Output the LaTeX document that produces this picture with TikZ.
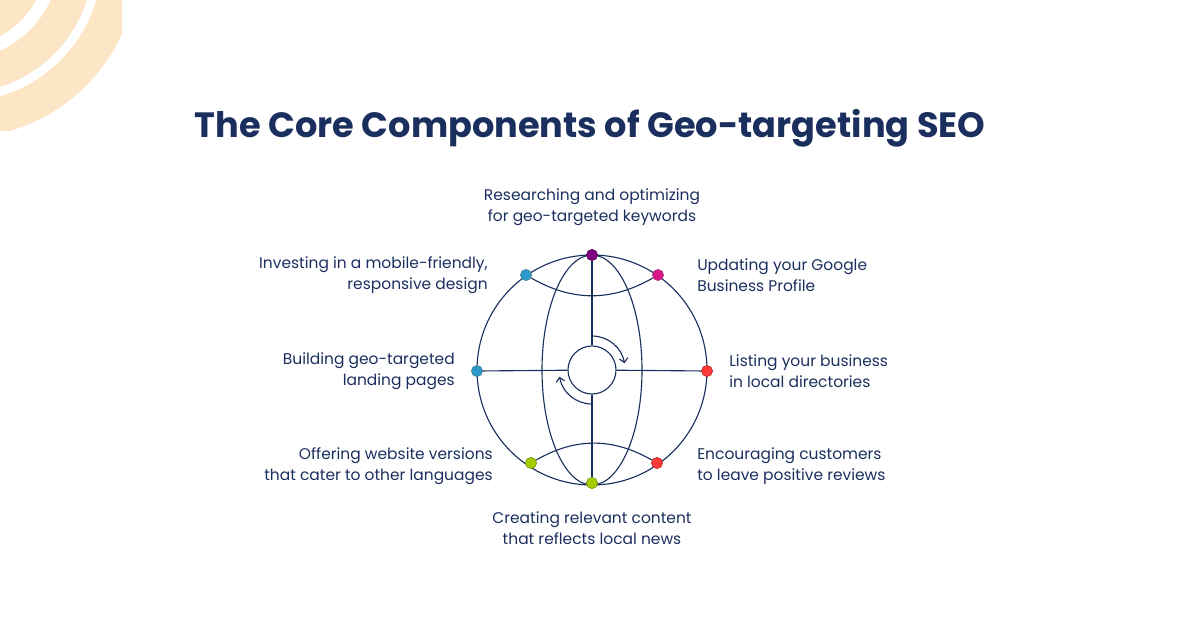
\documentclass[tikz,border=0pt]{standalone}
\usepackage{fontspec}
\setmainfont{Poppins}
\usetikzlibrary{arrows.meta}
\definecolor{navy}{HTML}{1B2F5E}
\definecolor{peach}{HTML}{FDE6C6}
\tikzset{
  label/.style={text=navy, font=\fontsize{11}{15}\selectfont, inner sep=0pt},
  dot/.style={circle, fill=#1, draw=#1!70!black, line width=0.4pt, minimum size=8pt, inner sep=0pt},
  wire/.style={draw=navy, line width=0.8pt}
}
\begin{document}
\begin{tikzpicture}[x=0.025cm, y=-0.025cm]
        % Canvas
        \useasboundingbox (0,0) rectangle (1200,631);
        
        % Peach stripes in the corner
        \begin{scope}
            \clip (0,0) rectangle (122,130);
            \draw[peach, line width=0.8cm] (-40,-40) circle (70);
            \draw[peach, line width=0.85cm] (-40,-40) circle (116);
            \draw[peach, line width=0.9cm] (-40,-40) circle (160);
        \end{scope}
        
        % Title
        \node[text=navy, font=\fontsize{25}{30}\selectfont\bfseries, anchor=west] (title) at (190,128) {The Core Components of Geo-targeting SEO};
        
        % Globe
        \coordinate (c) at (592,370);
        \draw[wire] (c) circle (115);
        \draw[wire] (c) ellipse (50 and 115);
        \node[wire, circle, minimum size=1.2cm, inner sep=0pt] (hub) at (c) {};
        
        % Points on the rim
        \node[dot=violet] (top) at (592,255) {};
        \node[dot=magenta!80!violet] (tr) at (658,275) {};
        \node[dot=cyan!60!teal] (tl) at (526,275) {};
        \node[dot=cyan!60!teal] (left) at (477,371) {};
        \node[dot=red!70!pink] (right) at (707,371) {};
        \node[dot=red!70!pink] (br) at (657,463) {};
        \node[dot=lime!60!olive] (bl) at (531,463) {};
        \node[dot=lime!60!olive] (bottom) at (592,483) {};
        
        % Arcs and spokes
        \draw[wire] (tl) to[bend right=30] (tr);
        \draw[wire] (bl) to[bend left=30] (br);
        \draw[wire] (top) -- (hub);
        \draw[wire] (bottom) -- (hub);
        \draw[wire] (left) -- (hub);
        \draw[wire] (right) -- (hub);
        
        % Turning arrows
        \draw[wire, -{Straight Barb[length=3pt]}] (592,336) arc (270:350:33);
        \draw[wire, -{Straight Barb[length=3pt]}] (592,404) arc (90:170:33);
        
        % Labels
        \node[label, align=center] (ltop) at (592,207) {Researching and optimizing\\for geo-targeted keywords};
        \node[label, align=left, anchor=west] (ltr) at (697,275) {Updating your Google\\Business Profile};
        \node[label, align=right, anchor=east] (ltl) at (488,275) {Investing in a mobile-friendly,\\responsive design};
        \node[label, align=right, anchor=east] (lleft) at (455,371) {Building geo-targeted\\landing pages};
        \node[label, align=left, anchor=west] (lright) at (729,371) {Listing your business\\in local directories};
        \node[label, align=right, anchor=east] (lbl) at (493,466) {Offering website versions\\that cater to other languages};
        \node[label, align=left, anchor=west] (lbr) at (697,466) {Encouraging customers\\to leave positive reviews};
        \node[label, align=center] (lbottom) at (592,528) {Creating relevant content\\that reflects local news};
\end{tikzpicture}
\end{document}
